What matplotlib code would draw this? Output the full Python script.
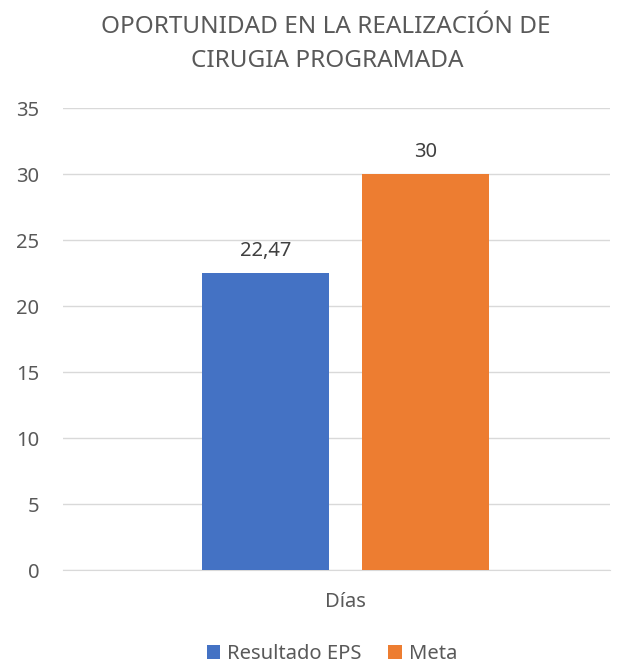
import matplotlib
matplotlib.use("Agg")
import matplotlib.pyplot as plt

categories = ["Días"]
series_names = ["Resultado EPS", "Meta"]
values = [22.47, 30]
value_labels = ["22,47", "30"]
colors = ["#4472C4", "#ED7D31"]
yticks = [0, 5, 10, 15, 20, 25, 30, 35]
title_lines = ["OPORTUNIDAD EN LA REALIZACIÓN DE", "CIRUGIA PROGRAMADA"]

plt.rcParams['font.family'] = ['Noto Sans', 'DejaVu Sans']
txt = "#595959"
FS = 14.5

W, H = 623, 664
fig = plt.figure(figsize=(W/100, H/100), dpi=100)
ax = fig.add_axes([63/W, 1-570/H, (610-63)/W, (570-108)/H])

width = 0.232
offsets = [-0.146, 0.146]
for i, (name, v, lab, c) in enumerate(zip(series_names, values, value_labels, colors)):
    ax.bar(0 + offsets[i], v, width=width, color=c, label=name, zorder=3)
    ax.text(0 + offsets[i], v + 1.3, lab, ha='center', va='baseline', fontsize=FS, color="#404040")

ax.set_xlim(-0.517, 0.483)
ax.set_ylim(0, 35)
ax.set_yticks(yticks)
ax.set_yticklabels([str(t) for t in yticks], fontsize=FS, color=txt)
ax.set_xticks([0])
ax.set_xticklabels(categories, fontsize=FS, color=txt)
ax.tick_params(axis='y', length=0, pad=17)
ax.tick_params(axis='x', length=0, pad=16)
ax.yaxis.grid(True, color="#D9D9D9", linewidth=1, zorder=0)
for s in ['top', 'right', 'left']:
    ax.spines[s].set_visible(False)
ax.spines['bottom'].set_color("#D9D9D9")

fig.text(326/W, 1-33/H, title_lines[0], ha='center', va='baseline', fontsize=17.5, color=txt)
fig.text(327/W, 1-67/H, title_lines[1], ha='center', va='baseline', fontsize=17.5, color=txt)

leg = fig.legend(loc='center', bbox_to_anchor=(332/W, 1-654/H), ncol=2, frameon=False,
                 fontsize=FS, handlelength=0.67, handleheight=0.67, columnspacing=1.3,
                 handletextpad=0.36, borderpad=0, borderaxespad=0)
for t in leg.get_texts():
    t.set_color(txt)

fig.savefig("out.png", dpi=100)
